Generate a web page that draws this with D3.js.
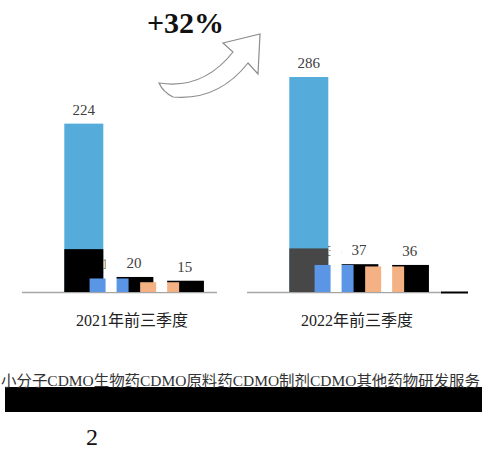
<!DOCTYPE html>
<html>
<head>
<meta charset="utf-8">
<script src="https://cdn.jsdelivr.net/npm/d3@7"></script>
<style>
  body { margin: 0; background: #fff; }
  text { font-family: "Liberation Serif", "Noto Sans CJK SC", serif; }
</style>
</head>
<body>
<svg width="482" height="452"></svg>
<script>
// categories and series values
var categories = ["2021年前三季度", "2022年前三季度"];
var mainVals   = [224, 286];   // light blue
var baseVals   = [57, 58];     // dark block under the main bar
var blueVals   = [18, 36];
var black1Vals = [20, 37];
var salmonVals = [13, 34];
var black2Vals = [15, 36];
var tailVals   = [0, 1];
var legendNames = ["小分子CDMO", "生物药CDMO", "原料药CDMO", "制剂CDMO", "其他药物研发服务"];
var growthText = "+32%";
var pageNo = "2";

var svg = d3.select("svg");
var baseY = 292;

var x = d3.scaleBand().domain(categories).range([19.5, 469.5]).padding(0);
var slot = d3.scalePoint().domain(d3.range(7)).range([-67.7, 84]);
var y = d3.scaleLinear().domain([0, 300]).range([baseY, baseY - 225.5]);
var barW = 39, blackW = 38.5;

function cx(i) { return x(categories[i]) + x.bandwidth() / 2; }

var g = svg.append("g");

// baseline
categories.forEach(function(c, i) {
    g.append("line")
        .attr("x1", cx(i) - 110).attr("x2", cx(i) + 85)
        .attr("y1", baseY + 0.5).attr("y2", baseY + 0.5)
        .style("stroke", "#a6a6a6").style("stroke-width", 1.5);
});

function bars(vals, s, w, color) {
    g.selectAll(null).data(vals).enter().append("rect")
        .attr("x", function(d, i) { return cx(i) + slot(s); })
        .attr("y", function(d) { return y(d); })
        .attr("width", w)
        .attr("height", function(d) { return baseY - y(d); })
        .each(function(d, i) {
            d3.select(this).style("fill", typeof color === "function" ? color(i) : color);
        });
}

function labels(vals, s, w, fill) {
    g.selectAll(null).data(vals).enter().append("text")
        .attr("x", function(d, i) { return cx(i) + slot(s) + w / 2; })
        .attr("y", function(d) { return y(d) - 9; })
        .attr("text-anchor", "middle")
        .style("font-size", "15px")
        .style("fill", fill || "#404040")
        .text(function(d) { return d; });
}

// hidden label of the blue bar, later mostly covered
labels(blueVals, 1, barW, "#555");

bars(mainVals, 0, barW, "#55acdb");
bars(baseVals, 0, barW, function(i) { return i === 0 ? "#000" : "#474747"; });

bars(black1Vals, 2, blackW, "#000");
bars(black2Vals, 4, blackW, "#000");
bars(blueVals, 1, barW, "#5b95e6");
bars(salmonVals, 3, barW, "#f4b183");
g.selectAll(null).data(tailVals).enter().append("rect")
    .attr("x", function(d, i) { return cx(i) + slot(6); })
    .attr("y", baseY - 0.5).attr("width", function(d) { return d ? 27 : 0; }).attr("height", 2)
    .style("fill", "#000");

// white gaps splitting the coloured bars
[blueVals, salmonVals].forEach(function(vals, k) {
    g.selectAll(null).data(vals).enter().append("rect")
        .attr("x", function(d, i) { return cx(i) + slot(1 + 2 * k) + 16; })
        .attr("y", function(d) { return y(d) - 30; })
        .attr("width", 11)
        .attr("height", function(d) { return baseY - y(d) + 30; })
        .style("fill", "#fff");
});

labels(mainVals, 0, barW);
labels(black1Vals, 2, blackW);
labels(black2Vals, 4, blackW);

// category labels
g.selectAll(null).data(categories).enter().append("text")
    .attr("x", function(d, i) { return cx(i); })
    .attr("y", 326)
    .attr("text-anchor", "middle")
    .style("font-size", "16px")
    .style("fill", "#222")
    .text(function(d) { return d; });

// growth arrow
svg.append("path")
    .attr("d", "M159,83 Q203,90 233,52 L223,43 L260,34 L258,74 L248,63 Q218,101 173,97 Q163,92 159,83 Z")
    .style("fill", "#fff").style("stroke", "#8c8c8c").style("stroke-width", 1.2);
svg.append("text")
    .attr("x", 147).attr("y", 33)
    .style("font-size", "30px").style("font-weight", "bold").style("fill", "#111")
    .text(growthText);

// legend (squeezed)
svg.append("rect").attr("x", 5).attr("y", 387).attr("width", 477).attr("height", 25).style("fill", "#000");
svg.append("text")
    .attr("x", 1).attr("y", 386)
    .attr("textLength", 479).attr("lengthAdjust", "spacingAndGlyphs")
    .style("font-size", "15px").style("fill", "#333")
    .text(legendNames.join(""));

svg.append("text")
    .attr("x", 86).attr("y", 445)
    .style("font-size", "24px").style("fill", "#111")
    .text(pageNo);
</script>
</body>
</html>
